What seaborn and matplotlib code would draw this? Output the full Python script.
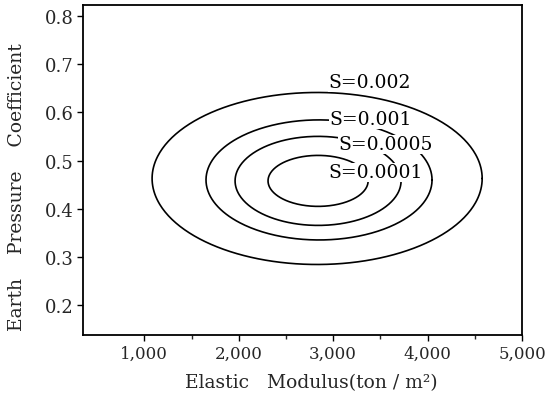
import numpy as np
import pandas as pd
import matplotlib
matplotlib.use("Agg")
import matplotlib.pyplot as plt
import seaborn as sns

# Contour levels and ellipse geometry
levels = ["S=0.002", "S=0.001", "S=0.0005", "S=0.0001"]
center_E = [2830, 2850, 2840, 2840]
center_K = [0.463, 0.460, 0.458, 0.458]
half_E = [1748, 1197, 879, 530]
half_K = [0.1785, 0.1246, 0.0924, 0.0529]
label_E = [3390, 3400, 3559, 3453]
label_K = [0.663, 0.586, 0.534, 0.476]

x_ticks = [1000, 2000, 3000, 4000, 5000]
x_tick_labels = ["1,000", "2,000", "3,000", "4,000", "5,000"]
y_ticks = [0.2, 0.3, 0.4, 0.5, 0.6, 0.7, 0.8]
y_tick_labels = ["0.2", "0.3", "0.4", "0.5", "0.6", "0.7", "0.8"]

sns.set_style("ticks")
plt.rcParams["font.family"] = ["DejaVu Serif", "DejaVu Sans"]

fig = plt.figure(figsize=(5.51, 4.02), dpi=100)
ax = fig.add_axes([0.1506, 0.164, 0.7968, 0.821])

theta = np.linspace(0, 2 * np.pi, 400)
frames = []
for lv, e0, k0, a, b in zip(levels, center_E, center_K, half_E, half_K):
    frames.append(pd.DataFrame({
        "E": e0 + a * np.cos(theta),
        "K": k0 + b * np.sin(theta),
        "level": lv,
    }))
df = pd.concat(frames, ignore_index=True)

sns.lineplot(data=df, x="E", y="K", hue="level", units="level", estimator=None,
             sort=False, palette=["black"] * len(levels), legend=False,
             linewidth=1.2, ax=ax)

for lv, le, lk in zip(levels, label_E, label_K):
    ax.text(le, lk, lv, ha="center", va="center", fontsize=13.5, color="black",
            bbox=dict(facecolor="white", edgecolor="none", pad=0.4), zorder=5)

ax.set_xlim(350, 5000)
ax.set_ylim(0.138, 0.823)
ax.set_xticks(x_ticks)
ax.set_xticklabels(x_tick_labels, fontsize=12)
ax.set_xticks([1500, 2500, 3500, 4500], minor=True)
ax.set_yticks(y_ticks)
ax.set_yticklabels(y_tick_labels, fontsize=13)
ax.tick_params(axis="both", which="major", length=4, width=1, color="black",
               direction="out", pad=3)
ax.tick_params(axis="x", which="minor", length=3, width=1, direction="out")
for s in ax.spines.values():
    s.set_visible(True)
    s.set_linewidth(1.3)
    s.set_color("black")

ax.set_xlabel("Elastic   Modulus(ton / m\u00b2)", fontsize=13.5)
ax.set_ylabel("Earth    Pressure    Coefficient", fontsize=13.5)
ax.xaxis.set_label_coords(0.52, -0.115)
ax.yaxis.set_label_coords(-0.13, 0.45)

fig.savefig("out.png", dpi=100)
